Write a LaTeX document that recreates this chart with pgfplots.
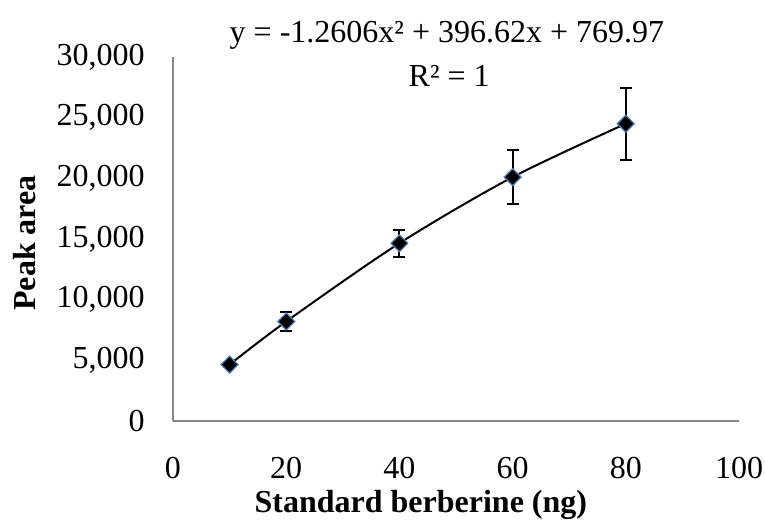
\documentclass[border=0pt]{standalone}
\usepackage{fontspec}
\setmainfont{Liberation Serif}
\usepackage{pgfplots}
\pgfplotsset{compat=1.18}
\definecolor{axgray}{HTML}{868686}
\definecolor{mkblue}{HTML}{4A7EBB}
\newcommand\fs{\fontsize{16}{19.2}\selectfont}

\begin{document}
\begin{tikzpicture}
\begin{axis}[
  scale only axis,
  width=283pt,
  height=182pt,
  xmin=0, xmax=100,
  ymin=0, ymax=30000,
  xtick={0,20,40,60,80,100},
  ytick={0,5000,10000,15000,20000,25000,30000},
  axis x line*=bottom,
  axis y line*=left,
  axis line style={draw=axgray, line width=0.75pt, -},
  major tick length=0pt,
  /pgf/number format/assume math mode=true,
  /pgf/number format/1000 sep={,},
  scaled y ticks=false,
  ticklabel style={font=\fs, inner sep=0pt},
  yticklabel style={anchor=east, xshift=-14pt},
  xticklabel style={anchor=north, yshift=-18pt},
  clip=false,
]
% trendline (passes through the points, R^2 = 1)
\addplot[smooth, black, line width=1pt] coordinates {
  (10,4650) (20,8200) (40,14650) (60,20100) (80,24500)
};
\addplot[
  only marks,
  mark=square*,
  mark size=3pt,
  mark options={rotate=45, fill=black, draw=mkblue, line width=0.6pt},
  error bars/.cd,
    y dir=both, y explicit,
    error mark=|,
    error bar style={black, line width=1pt},
    error mark options={black, line width=1pt, mark size=3pt, solid},
] coordinates {
  (10,4650) +- (0,150)
  (20,8200) +- (0,780)
  (40,14650) +- (0,1110)
  (60,20100) +- (0,2200)
  (80,24500) +- (0,2950)
};
\node[font=\fs, anchor=center] at ([yshift=11pt]rel axis cs:0.484,1) {y = -1.2606x² + 396.62x + 769.97};
\node[font=\fs, anchor=center] at ([yshift=-9.5pt]rel axis cs:0.488,1) {R² = 1};
\node[font=\fs\bfseries, anchor=base] at ([yshift=-46pt]rel axis cs:0.438,0) {Standard berberine (ng)};
\node[font=\fs\bfseries, anchor=center, rotate=90] at ([xshift=-74pt]rel axis cs:0,0.489) {Peak area};
\coordinate (SW) at (rel axis cs:0,0);
\coordinate (NE) at (rel axis cs:1,1);
\end{axis}
\pgfresetboundingbox
\path ([xshift=-86.5pt, yshift=-50pt]SW) rectangle ([xshift=13pt, yshift=28.5pt]NE);
\end{tikzpicture}
\end{document}
